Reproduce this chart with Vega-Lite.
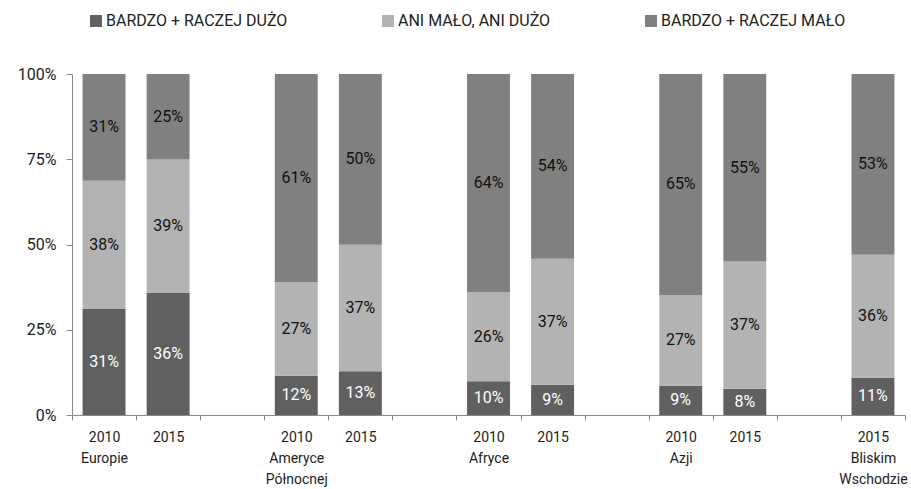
{
  "$schema": "https://vega.github.io/schema/vega-lite/v6.json",
  "width": 833,
  "height": 341,
  "autosize": {"type": "none"},
  "padding": {"left": 72, "top": 74, "right": 6, "bottom": 74},
  "background": "white",
  "config": {
    "view": {"stroke": null},
    "font": "Roboto",
    "axis": {"grid": false, "domainColor": "#888888", "tickColor": "#888888", "labelColor": "#222222", "labelFont": "Roboto", "title": null}
  },
  "data": {
    "values": [
      {"cat": "2010 Europie", "s": "BARDZO + RACZEJ DUŻO", "k": 1, "v": 0.311},
      {"cat": "2010 Europie", "s": "ANI MAŁO, ANI DUŻO", "k": 2, "v": 0.376},
      {"cat": "2010 Europie", "s": "BARDZO + RACZEJ MAŁO", "k": 3, "v": 0.313},
      {"cat": "2015 Europie", "s": "BARDZO + RACZEJ DUŻO", "k": 1, "v": 0.358},
      {"cat": "2015 Europie", "s": "ANI MAŁO, ANI DUŻO", "k": 2, "v": 0.391},
      {"cat": "2015 Europie", "s": "BARDZO + RACZEJ MAŁO", "k": 3, "v": 0.251},
      {"cat": "2010 Ameryce Północnej", "s": "BARDZO + RACZEJ DUŻO", "k": 1, "v": 0.115},
      {"cat": "2010 Ameryce Północnej", "s": "ANI MAŁO, ANI DUŻO", "k": 2, "v": 0.274},
      {"cat": "2010 Ameryce Północnej", "s": "BARDZO + RACZEJ MAŁO", "k": 3, "v": 0.611},
      {"cat": "2015 Ameryce Północnej", "s": "BARDZO + RACZEJ DUŻO", "k": 1, "v": 0.128},
      {"cat": "2015 Ameryce Północnej", "s": "ANI MAŁO, ANI DUŻO", "k": 2, "v": 0.371},
      {"cat": "2015 Ameryce Północnej", "s": "BARDZO + RACZEJ MAŁO", "k": 3, "v": 0.501},
      {"cat": "2010 Afryce", "s": "BARDZO + RACZEJ DUŻO", "k": 1, "v": 0.099},
      {"cat": "2010 Afryce", "s": "ANI MAŁO, ANI DUŻO", "k": 2, "v": 0.262},
      {"cat": "2010 Afryce", "s": "BARDZO + RACZEJ MAŁO", "k": 3, "v": 0.639},
      {"cat": "2015 Afryce", "s": "BARDZO + RACZEJ DUŻO", "k": 1, "v": 0.089},
      {"cat": "2015 Afryce", "s": "ANI MAŁO, ANI DUŻO", "k": 2, "v": 0.369},
      {"cat": "2015 Afryce", "s": "BARDZO + RACZEJ MAŁO", "k": 3, "v": 0.542},
      {"cat": "2010 Azji", "s": "BARDZO + RACZEJ DUŻO", "k": 1, "v": 0.086},
      {"cat": "2010 Azji", "s": "ANI MAŁO, ANI DUŻO", "k": 2, "v": 0.266},
      {"cat": "2010 Azji", "s": "BARDZO + RACZEJ MAŁO", "k": 3, "v": 0.648},
      {"cat": "2015 Azji", "s": "BARDZO + RACZEJ DUŻO", "k": 1, "v": 0.077},
      {"cat": "2015 Azji", "s": "ANI MAŁO, ANI DUŻO", "k": 2, "v": 0.373},
      {"cat": "2015 Azji", "s": "BARDZO + RACZEJ MAŁO", "k": 3, "v": 0.55},
      {"cat": "2015 Bliskim Wschodzie", "s": "BARDZO + RACZEJ DUŻO", "k": 1, "v": 0.109},
      {"cat": "2015 Bliskim Wschodzie", "s": "ANI MAŁO, ANI DUŻO", "k": 2, "v": 0.361},
      {"cat": "2015 Bliskim Wschodzie", "s": "BARDZO + RACZEJ MAŁO", "k": 3, "v": 0.53}
    ]
  },
  "encoding": {
    "x": {
      "field": "cat",
      "type": "nominal",
      "scale": {
        "domain": ["2010 Europie", "2015 Europie", "g1", "2010 Ameryce Północnej", "2015 Ameryce Północnej", "g2", "2010 Afryce", "2015 Afryce", "g3", "2010 Azji", "2015 Azji", "g4", "2015 Bliskim Wschodzie"],
        "paddingInner": 0,
        "paddingOuter": 0
      },
      "axis": {
        "labelAngle": 0,
        "tickBand": "extent",
        "tickSize": 5,
        "labelFontSize": 14,
        "labelLineHeight": 21,
        "labelPadding": 10,
        "labelExpr": "slice(''+datum.value,0,2) != '20' ? '' : ((slice(''+datum.value,0,4) == '2010' || indexof(''+datum.value,'Bliskim') >= 0) ? split(''+datum.value, ' ') : slice(''+datum.value,0,4))"
      }
    },
    "y": {
      "field": "v",
      "type": "quantitative",
      "stack": "zero",
      "scale": {"domain": [0, 1]},
      "axis": {"values": [0, 0.25, 0.5, 0.75, 1], "format": ".0%", "tickSize": 6, "labelFontSize": 16, "labelPadding": 10}
    },
    "order": {"field": "k", "type": "quantitative"}
  },
  "layer": [
    {
      "mark": {"type": "bar", "width": {"band": 0.67}},
      "encoding": {
        "color": {
          "field": "s",
          "type": "nominal",
          "scale": {
            "domain": ["BARDZO + RACZEJ DUŻO", "ANI MAŁO, ANI DUŻO", "BARDZO + RACZEJ MAŁO"],
            "range": ["#606060", "#b3b3b3", "#808080"]
          },
          "legend": {
            "title": null,
            "orient": "none",
            "direction": "horizontal",
            "legendX": 16,
            "legendY": -61,
            "padding": 0,
            "symbolType": "square",
            "symbolSize": 144,
            "symbolStrokeWidth": 0,
            "labelFontSize": 16,
            "labelColor": "#222222",
            "labelFont": "Roboto",
            "labelLimit": 0,
            "columnPadding": 92,
            "labelOffset": 2
          }
        }
      }
    },
    {
      "mark": {"type": "text", "fontSize": 16, "baseline": "middle"},
      "encoding": {
        "y": {"field": "v", "type": "quantitative", "stack": "zero", "bandPosition": 0.5},
        "text": {"field": "v", "type": "quantitative", "format": ".0%"},
        "color": {"condition": {"test": "datum.k == 1", "value": "white"}, "value": "#111111"}
      }
    }
  ]
}
